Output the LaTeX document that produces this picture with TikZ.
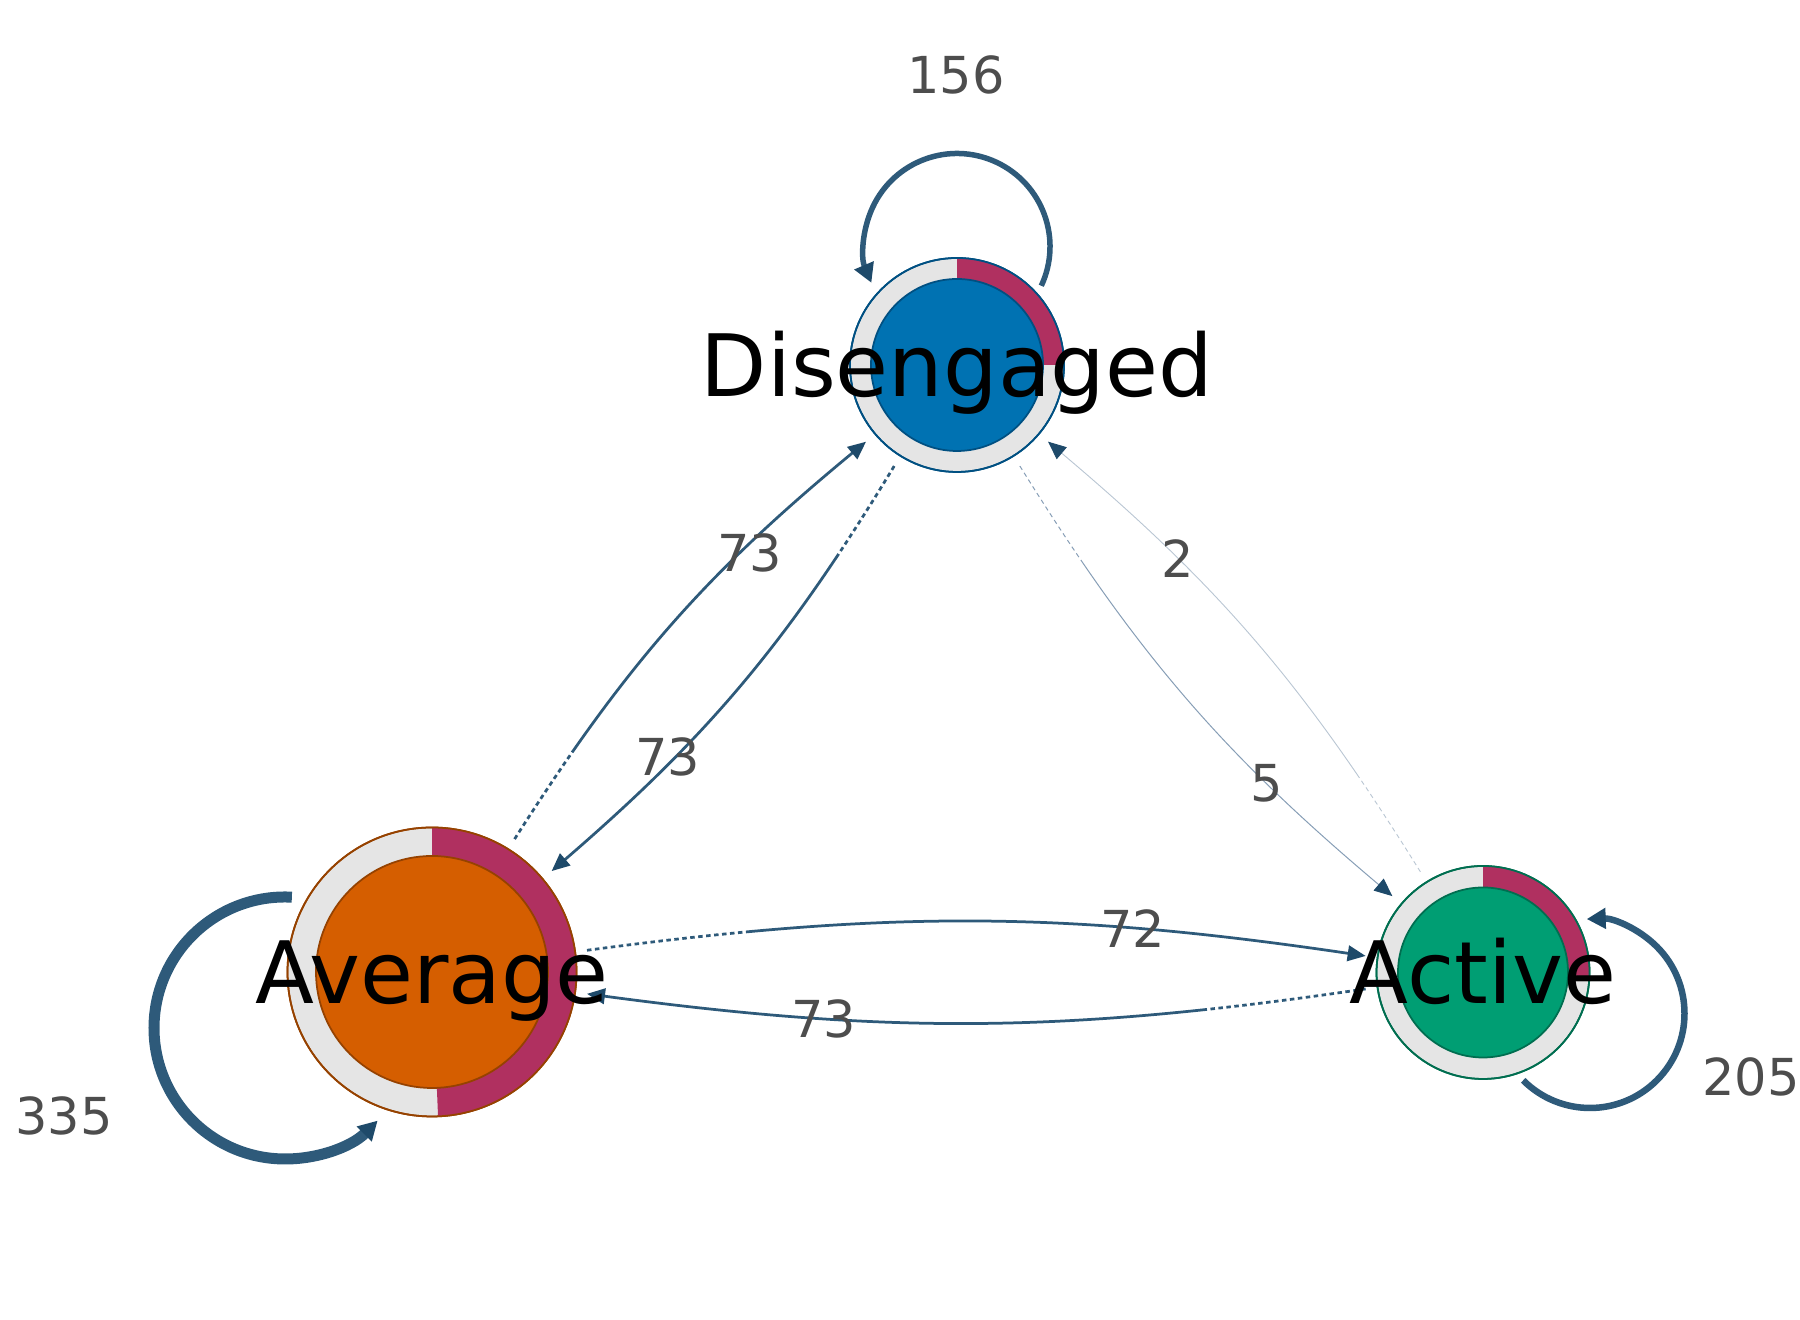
\documentclass[tikz,border=0pt]{standalone}
\usepackage{fontspec}
\setmainfont{DejaVu Sans}
\usetikzlibrary{arrows.meta,calc}
\definecolor{disfill}{RGB}{0,114,178}
\definecolor{disline}{RGB}{0,80,130}
\definecolor{avgfill}{RGB}{213,94,0}
\definecolor{avgline}{RGB}{150,66,0}
\definecolor{actfill}{RGB}{0,158,115}
\definecolor{actline}{RGB}{0,110,80}
\definecolor{ringgray}{RGB}{229,229,229}
\definecolor{ringred}{RGB}{176,48,96}
\definecolor{edgecol}{RGB}{46,90,122}
\definecolor{tipcol}{RGB}{30,74,106}
\definecolor{faintcol}{RGB}{135,158,182}
\definecolor{faintercol}{RGB}{185,198,211}
\definecolor{labgray}{RGB}{77,77,77}
% n dots, then solid to the end
\newcommand\dotrun[1]{\ifnum#1>0 on .9mm off .7mm \expandafter\dotrun\expandafter{\the\numexpr#1-1\relax}\fi}

\begin{document}
\begin{tikzpicture}[x=0.2mm,y=0.2mm,
    state/.style={circle,draw=#1line,fill=ringgray,line width=.35mm,
                  inner sep=0pt,outer sep=2.4mm},
    statename/.style={font=\fontsize{49}{59}\selectfont,text height=35.5pt,
                      text depth=0pt,inner sep=0pt},
    num/.style={font=\fontsize{29}{34}\selectfont,text=labgray,inner sep=0pt},
    lead/.style={dash pattern/.expanded={\dotrun{#1}on 600mm off 0mm}},
    flow/.style={draw=edgecol,line width=.55mm,
                 -{Triangle[length=3.6mm,width=3.1mm,color=tipcol]}},
    faint/.style={draw=faintcol,line width=.2mm,
                  -{Triangle[length=3.6mm,width=3.1mm,color=tipcol]}},
    fainter/.style={draw=faintercol,line width=.18mm,
                    -{Triangle[length=3.6mm,width=3.1mm,color=tipcol]}},
    selfloop/.style={draw=edgecol,line cap=butt,
                     -{Triangle[length=3.8mm,width=4mm,color=tipcol]}}
  ]
    \useasboundingbox (0,0) rectangle (1800,1320);

    % states
    \node[state=dis,minimum size=42.8mm] (dis) at (957,955) {};
    \node[state=avg,minimum size=57.8mm] (avg) at (432,348) {};
    \node[state=act,minimum size=42.6mm] (act) at (1483,347.5) {};

    \foreach \s/\r/\ri/\a in {dis/107/86/90, avg/144.5/116/177.6, act/106.5/85/92}{
      \fill[ringred] (\s.center) -- ++(90:\r) arc[start angle=90,delta angle=-\a,radius=\r] -- cycle;
      \draw[\s line,line width=.35mm] (\s.center) circle[radius=\r];
      \draw[\s line,fill=\s fill,line width=.35mm] (\s.center) circle[radius=\ri];
    }

    % self loops
    \draw[selfloop,line width=1.1mm] ($(dis.center)+(0,118.5)$) ++(-25:93)
      arc[start angle=-25,end angle=203,radius=93];
    \draw[selfloop,line width=2.2mm] ($(avg.center)+(-147,-56)$) ++(87:131)
      arc[start angle=87,end angle=315,radius=131];
    \draw[selfloop,line width=1.3mm] ($(act.center)+(107,-41)$) ++(225:94.5)
      arc[start angle=225,end angle=452,radius=94.5];

    % transitions
    \draw[flow,lead=13] (avg) to[bend left=9] node[num,pos=.70,xshift=1.8mm] (l73a) {73} (dis);
    \draw[flow,lead=13] (dis) to[bend left=9] node[num,pos=.70,xshift=-1.4mm] (l73b) {73} (avg);
    \draw[flow,lead=20] (avg) to[bend left=8] node[num,pos=.715] (l72) {72} (act);
    \draw[flow,lead=20] (act) to[bend left=8] node[num,pos=.71] (l73c) {73} (avg);
    \draw[faint,lead=14] (dis) to[bend right=9] node[num,pos=.72] (l5) {5} (act);
    \draw[fainter,lead=14] (act) to[bend right=9] node[num,pos=.71] (l2) {2} (dis);

    % names and counts
    \node[statename] (distxt) at (dis) {Disengaged};
    \node[statename] (avgtxt) at (avg) {Average};
    \node[statename] (acttxt) at (act) {Active};
    \node[num] (n156) at (956,1245) {156};
    \node[num] (n335) at (64,204) {335};
    \node[num] (n205) at (1751,243) {205};
\end{tikzpicture}
\end{document}
